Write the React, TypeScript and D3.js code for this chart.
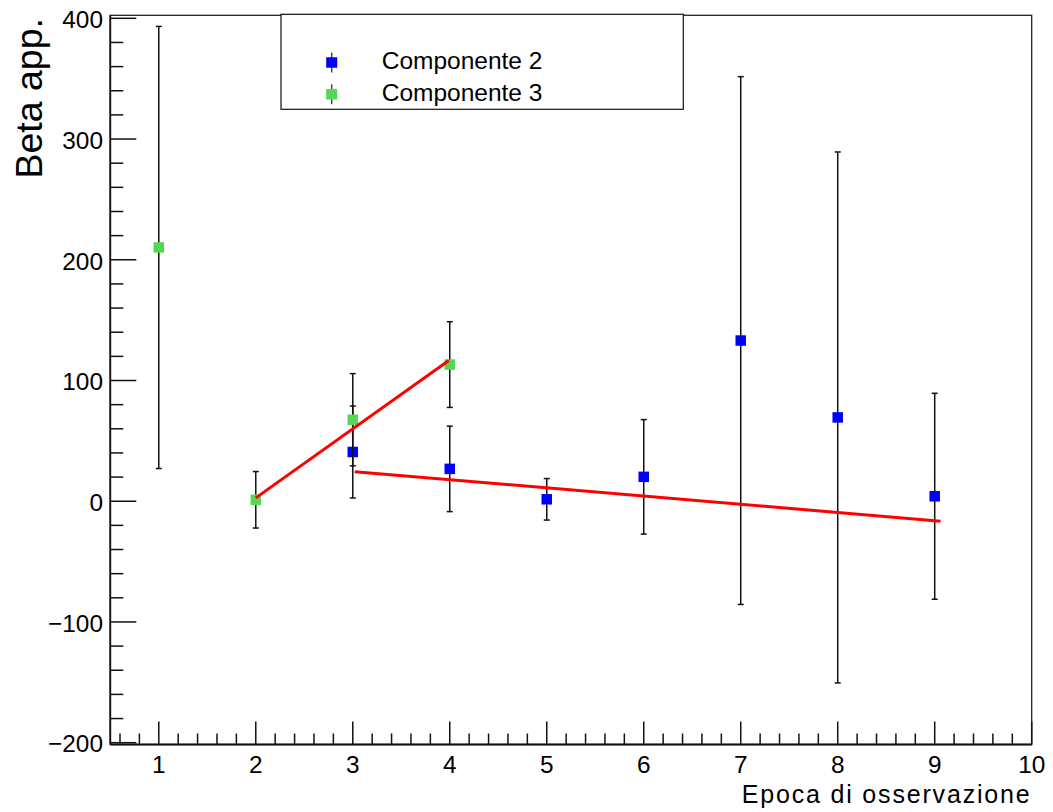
import React from 'react';
import * as d3 from 'd3';

// Componente 2 (blue)
const epochs2 = [3, 4, 5, 6, 7, 8, 9];
const beta2 = [40.8, 26.8, 1.6, 20.2, 133.1, 69.4, 4.1];
const err2 = [38.1, 35.4, 17.2, 47.4, 218.6, 219.9, 85.3];

// Componente 3 (green)
const epochs3 = [1, 2, 3, 4];
const beta3 = [210.2, 1.2, 67.5, 113.2];
const err3 = [183.1, 23.4, 38.2, 35.5];

// linear fits
const fit2X = [3.02, 9.06];
const fit2Y = [24.5, -16.5];
const fit3X = [2.0, 3.99];
const fit3Y = [2.8, 116.5];

const yMajor = [-200, -100, 0, 100, 200, 300, 400];
const xMajor = [1, 2, 3, 4, 5, 6, 7, 8, 9, 10];

const legendLabels = ['Componente 2', 'Componente 3'];
const BLUE = '#0000ff';
const GREEN = '#55d655';

const W = 1053;
const H = 812;
const frame = { left: 110.3, right: 1031.7, top: 15.3, bottom: 744.5 };
const FONT = '"Liberation Sans", Arial, Helvetica, sans-serif';

const x = d3.scaleLinear().domain([0.5, 10]).range([frame.left, frame.right]);
const y = d3.scaleLinear().domain([-201.5, 402.5]).range([frame.bottom, frame.top]);

const yMinor = d3.range(-200, 401, 20).filter(v => !yMajor.includes(v));
const xMinor = d3.range(0.6, 10, 0.2).map(v => +v.toFixed(1)).filter(v => !xMajor.includes(v));

const fmt = (v: number) => (v < 0 ? '\u2212' + Math.abs(v) : String(v));

const Series = ({ xs, ys, es, color }: { xs: number[]; ys: number[]; es: number[]; color: string }) => (
  <g>
    {xs.map((xv, i) => {
      const cx = x(xv);
      const y1 = y(ys[i] + es[i]);
      const y2 = y(ys[i] - es[i]);
      return (
        <g key={'e' + i} stroke="#111" strokeWidth={1.5}>
          <line x1={cx} x2={cx} y1={y1} y2={y2} />
          <line x1={cx - 3} x2={cx + 3} y1={y1} y2={y1} />
          <line x1={cx - 3} x2={cx + 3} y1={y2} y2={y2} />
        </g>
      );
    })}
    {xs.map((xv, i) => (
      <rect key={'m' + i} x={x(xv) - 5.25} y={y(ys[i]) - 5.25} width={10.5} height={10.5} fill={color} />
    ))}
  </g>
);

const App = () => {
  const line = d3.line<[number, number]>().x(d => x(d[0])).y(d => y(d[1]));
  const fit2 = fit2X.map((v, i) => [v, fit2Y[i]] as [number, number]);
  const fit3 = fit3X.map((v, i) => [v, fit3Y[i]] as [number, number]);

  return (
    <div style={{ position: 'fixed', left: 0, top: 0, width: W, height: H, background: '#fff' }}>
      <svg width={W} height={H} style={{ display: 'block', fontFamily: FONT }}>
        <rect width={W} height={H} fill="#fff" />

        {/* frame */}
        <rect x={frame.left} y={frame.top} width={frame.right - frame.left} height={frame.bottom - frame.top}
          fill="none" stroke="#222" strokeWidth={1.3} />
        <line x1={frame.left} x2={frame.left} y1={frame.top} y2={frame.bottom} stroke="#111" strokeWidth={1.8} />
        <line x1={frame.left} x2={frame.right} y1={frame.bottom} y2={frame.bottom} stroke="#111" strokeWidth={1.8} />

        {/* ticks */}
        <g stroke="#111" strokeWidth={1.5}>
          {yMajor.map(v => (
            <line key={'ym' + v} x1={frame.left} x2={frame.left + 26} y1={y(v)} y2={y(v)} />
          ))}
          {yMinor.map(v => (
            <line key={'yn' + v} x1={frame.left} x2={frame.left + 13} y1={y(v)} y2={y(v)} />
          ))}
          {xMajor.map(v => (
            <line key={'xm' + v} x1={x(v)} x2={x(v)} y1={frame.bottom} y2={frame.bottom - 23} />
          ))}
          {xMinor.map(v => (
            <line key={'xn' + v} x1={x(v)} x2={x(v)} y1={frame.bottom} y2={frame.bottom - 11} />
          ))}
        </g>

        {/* tick labels */}
        <g fontSize={24.4} fill="#000">
          {yMajor.map(v => (
            <text key={'yl' + v} x={103} y={y(v)} dy="0.4em" textAnchor="end">{fmt(v)}</text>
          ))}
          {xMajor.map(v => (
            <text key={'xl' + v} x={x(v)} y={773.3} textAnchor="middle">{v}</text>
          ))}
        </g>

        {/* axis titles */}
        <text x={741.7} y={802.5} fontSize={25} textLength={288} lengthAdjust="spacing">Epoca di osservazione</text>
        <text transform="translate(42,18) rotate(-90)" textAnchor="end" fontSize={37.5}>Beta app.</text>

        {/* data */}
        <Series xs={epochs2} ys={beta2} es={err2} color={BLUE} />
        <Series xs={epochs3} ys={beta3} es={err3} color={GREEN} />

        {/* fits */}
        <path d={line(fit3) || ''} fill="none" stroke="#ff0000" strokeWidth={3} />
        <path d={line(fit2) || ''} fill="none" stroke="#ff0000" strokeWidth={3} />

        {/* legend */}
        <g>
          <rect x={281} y={14.3} width={402.3} height={95} fill="#fff" stroke="#111" strokeWidth={1.2} />
          {legendLabels.map((lab, i) => {
            const cy = 62.5 + i * 31.8;
            const color = i === 0 ? BLUE : GREEN;
            return (
              <g key={lab}>
                <line x1={331.7} x2={331.7} y1={cy - 10} y2={cy + 10} stroke="#333" strokeWidth={1.3} />
                <rect x={331.7 - 5.5} y={cy - 5.25} width={11} height={10.5} fill={color} />
                <text x={381.7} y={cy + 6.9} fontSize={24.5}>{lab}</text>
              </g>
            );
          })}
        </g>
      </svg>
    </div>
  );
};

export default App;
